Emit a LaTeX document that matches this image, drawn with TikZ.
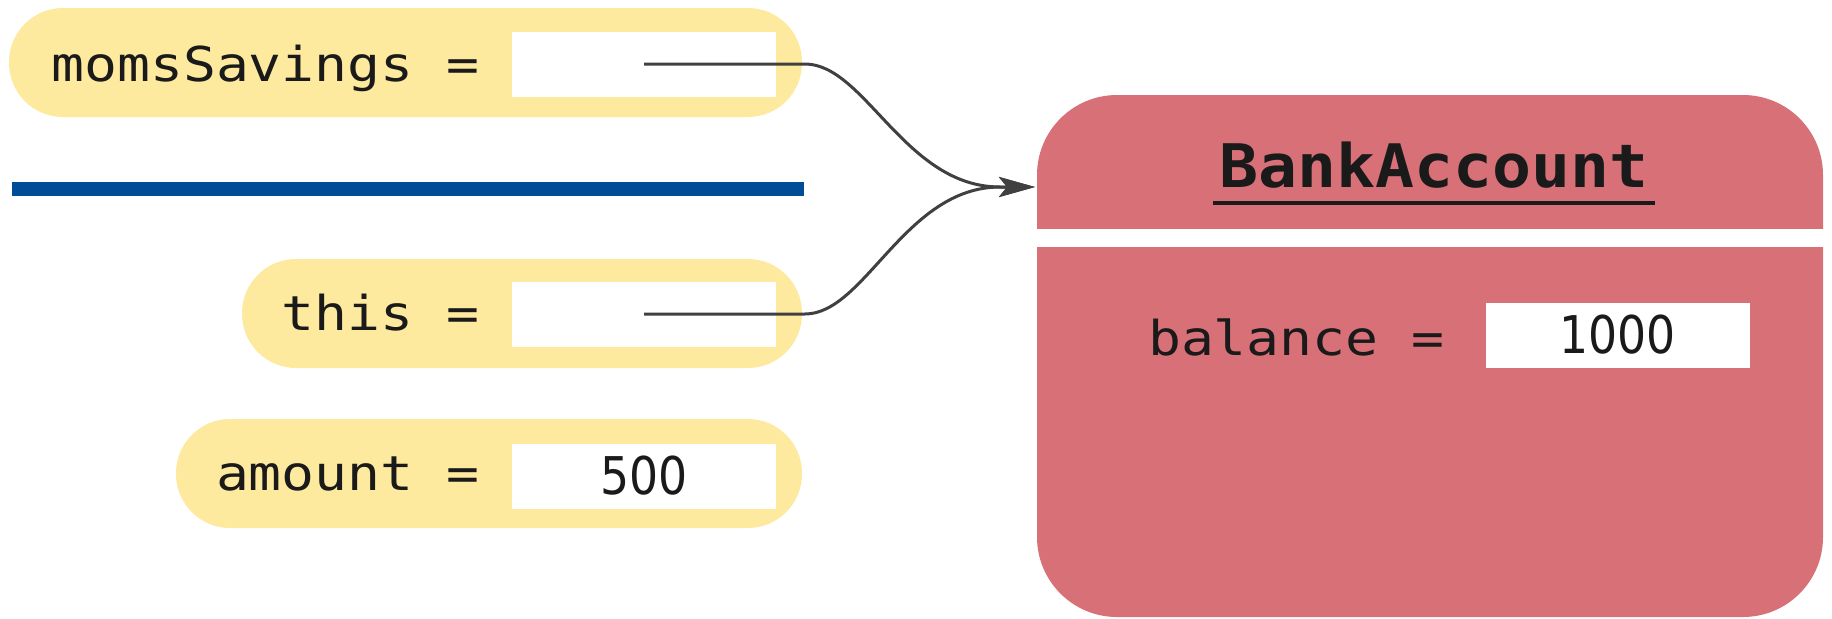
\documentclass[tikz,border=0pt]{standalone}
\usepackage{fontspec}
\usetikzlibrary{arrows.meta}
\newfontfamily\monof[FakeStretch=1.14]{DejaVu Sans Mono}
\newfontfamily\titlef[FakeStretch=1.08]{DejaVu Sans Mono}
\newfontfamily\numf[FakeStretch=0.88]{DejaVu Sans}
\definecolor{pillyellow}{RGB}{254,234,158}
\definecolor{objred}{RGB}{216,112,120}
\definecolor{lineblue}{RGB}{0,76,151}
\definecolor{inkc}{RGB}{26,26,26}
\begin{document}
\begin{tikzpicture}[x=0.5pt,y=-0.5pt,
  pill/.style={fill=pillyellow, draw=none, rounded corners=27pt, inner sep=0pt, minimum height=54.5pt},
  valbox/.style={fill=white, draw=none, inner sep=0pt, minimum width=132pt, minimum height=32.5pt,
    font=\numf\fontsize{26pt}{30pt}\selectfont, text=inkc},
  lbl/.style={inner sep=0pt, font=\monof\fontsize{24pt}{28pt}\selectfont, text=inkc},
  ref/.style={draw=black!75, line width=1.5pt, -{Stealth[length=18pt,width=10pt,inset=4pt]}},
  objbox/.style={fill=objred, draw=none, rounded corners=40pt, inner sep=0pt}
]
\useasboundingbox (0,0) rectangle (1832,618);

% parameter pills
\node[pill, minimum width=396.5pt] (p1) at (405.5,62.5) {};
\node[pill, minimum width=280pt] (p2) at (522,313.5) {};
\node[pill, minimum width=313pt] (p3) at (489,473.5) {};

% value boxes
\node[valbox] (v1) at (644,64) {};
\node[valbox] (v2) at (644,314) {};
\node[valbox] (v3) at (644,476) {500};

% labels
\node[lbl, anchor=base east] (t1) at (480,81) {momsSavings =};
\node[lbl, anchor=base east] (t2) at (480,330) {this =};
\node[lbl, anchor=base east] (t3) at (480,490) {amount =};

% separator line
\draw[lineblue, line width=7pt] (12,189) coordinate (s1) -- (804,189) coordinate (s2);

% object box
\node[objbox, minimum width=393pt, minimum height=261pt] (obj) at (1430,356) {};
\fill[white] (1030,229) rectangle (1830,247);
\node[inner sep=0pt, anchor=base, font=\titlef\bfseries\fontsize{30pt}{34pt}\selectfont, text=inkc] (ba) at (1434,187) {BankAccount};
\draw[inkc, line width=2pt] ([yshift=-8pt,xshift=-3pt]ba.base west) -- ([yshift=-8pt,xshift=3pt]ba.base east);
\node[lbl, anchor=base east] (t4) at (1445,355) {balance =};
\node[valbox] (v4) at (1617.5,335) {1000};

% references
\coordinate (tip) at (1035,187);
\draw[ref] (v1.center) -- (805,64) .. controls (865,64) and (905,187) .. (1000,187) -- (tip);
\draw[ref] (v2.center) -- (805,314) .. controls (865,314) and (905,187) .. (1000,187) -- (tip);
\end{tikzpicture}
\end{document}
